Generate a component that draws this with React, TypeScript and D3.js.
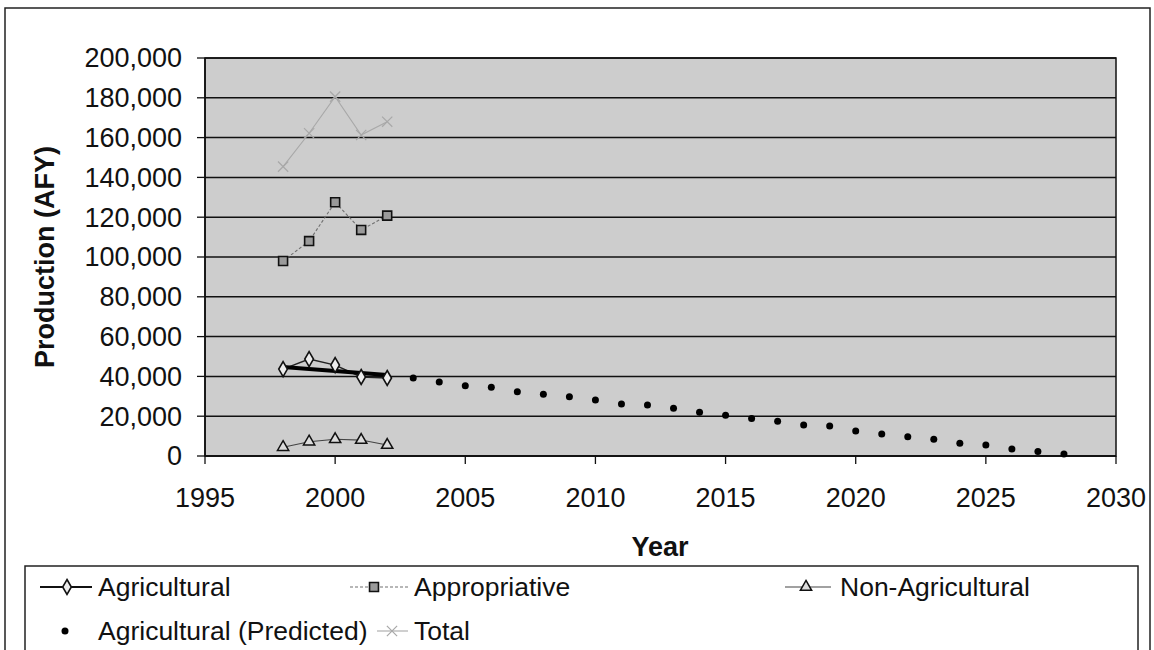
import React from 'react';
import * as d3 from 'd3';

// ---- data ----
const years = [1998, 1999, 2000, 2001, 2002];
const agricultural = [43700, 48700, 45700, 39700, 39200];
const appropriative = [98000, 108000, 127500, 113600, 120800];
const nonAgricultural = [4400, 7200, 8400, 8000, 5500];
const total = [145400, 162200, 180600, 161300, 168000];
const trendYears = [1998, 2002];
const trendValues = [44700, 40700];
const predictedYears = [2003, 2004, 2005, 2006, 2007, 2008, 2009, 2010, 2011, 2012, 2013, 2014, 2015, 2016, 2017, 2018, 2019, 2020, 2021, 2022, 2023, 2024, 2025, 2026, 2027, 2028];
const predicted = [39200, 37200, 35300, 34500, 32300, 31000, 29800, 28100, 26100, 25600, 24000, 22000, 20500, 18900, 17400, 15600, 15100, 12600, 11000, 9700, 8400, 6400, 5500, 3500, 2200, 1000];
const xTicks = [1995, 2000, 2005, 2010, 2015, 2020, 2025, 2030];
const yTicks = [0, 20000, 40000, 60000, 80000, 100000, 120000, 140000, 160000, 180000, 200000];

const W = 1154;
const H = 650;
const FONT = "'Liberation Sans', Arial, sans-serif";

export default function App() {
  const x = d3.scaleLinear().domain([1995, 2030]).range([205, 1116]);
  const y = d3.scaleLinear().domain([0, 200000]).range([456, 58]);
  const fmt = d3.format(',');

  const lineGen = d3.line<[number, number]>().x((d) => x(d[0])).y((d) => y(d[1]));
  const pts = (vals: number[], yrs: number[] = years) => yrs.map((yr, i) => [yr, vals[i]] as [number, number]);

  const diamond = d3.symbol().type(d3.symbolDiamond).size(65)() as string;
  const square = d3.symbol().type(d3.symbolSquare).size(80)() as string;
  const triangle = d3.symbol().type(d3.symbolTriangle).size(55)() as string;
  const times = d3.symbol().type(d3.symbolTimes).size(70)() as string;

  const [x0, x1] = x.range();
  const [yb, yt] = y.range();

  const totalColor = '#a8a8a8';

  const markAg = (cx: number, cy: number, k: string) => (
    <path key={k} d={diamond} transform={`translate(${cx},${cy})`} fill="#ededed" stroke="#111" strokeWidth={1.6} />
  );
  const markAp = (cx: number, cy: number, k: string) => (
    <path key={k} d={square} transform={`translate(${cx},${cy})`} fill="#9a9a9a" stroke="#111" strokeWidth={1.6} />
  );
  const markNa = (cx: number, cy: number, k: string) => (
    <path key={k} d={triangle} transform={`translate(${cx},${cy})`} fill="#dcdcdc" stroke="#111" strokeWidth={1.5} />
  );
  const markTo = (cx: number, cy: number, k: string) => (
    <path key={k} d={times} transform={`translate(${cx},${cy})`} fill="none" stroke={totalColor} strokeWidth={1.2} />
  );

  return (
    <svg width={W} height={H} style={{ position: 'absolute', left: 0, top: 0, background: '#fff' }} fontFamily={FONT}>
      {/* outer border */}
      <rect x={5} y={8} width={1145} height={660} fill="none" stroke="#222" strokeWidth={1.5} />

      {/* plot area */}
      <rect x={x0} y={yt} width={x1 - x0} height={yb - yt} fill="#cdcdcd" stroke="#111" strokeWidth={1.5} />

      {/* gridlines */}
      {yTicks.map((t) => (
        <line key={'g' + t} x1={x0} x2={x1} y1={y(t)} y2={y(t)} stroke="#111" strokeWidth={1.5} />
      ))}

      {/* axes */}
      <line x1={x0} x2={x0} y1={yt} y2={yb} stroke="#111" strokeWidth={1.6} />
      <line x1={x0} x2={x1} y1={yb} y2={yb} stroke="#111" strokeWidth={1.6} />
      {yTicks.map((t) => (
        <g key={'yt' + t}>
          <line x1={x0 - 8} x2={x0} y1={y(t)} y2={y(t)} stroke="#111" strokeWidth={1.3} />
          <text x={182} y={y(t)} dy="0.35em" textAnchor="end" fontSize={27} fill="#111">{fmt(t)}</text>
        </g>
      ))}
      {xTicks.map((t) => (
        <g key={'xt' + t}>
          <line x1={x(t)} x2={x(t)} y1={yb} y2={yb + 8} stroke="#111" strokeWidth={1.3} />
          <text x={x(t)} y={498} dy="0.35em" textAnchor="middle" fontSize={27} fill="#111">{t}</text>
        </g>
      ))}

      {/* axis titles */}
      <text x={660} y={547} dy="0.35em" textAnchor="middle" fontSize={27} fontWeight="bold" fill="#111">Year</text>
      <text transform={`translate(45,${(yt + yb) / 2}) rotate(-90)`} dy="0.35em" textAnchor="middle" fontSize={27} fontWeight="bold" fill="#111">Production (AFY)</text>

      {/* series lines */}
      <path d={lineGen(pts(total)) as string} fill="none" stroke={totalColor} strokeWidth={1.1} />
      <path d={lineGen(pts(appropriative)) as string} fill="none" stroke="#707070" strokeWidth={1.1} strokeDasharray="3,2" />
      <path d={lineGen(pts(nonAgricultural)) as string} fill="none" stroke="#444" strokeWidth={1.1} />
      <path d={lineGen(pts(agricultural)) as string} fill="none" stroke="#222" strokeWidth={1.4} />
      <path d={lineGen(pts(trendValues, trendYears)) as string} fill="none" stroke="#000" strokeWidth={4} />

      {/* markers */}
      {years.map((yr, i) => markTo(x(yr), y(total[i]), 'to' + yr))}
      {years.map((yr, i) => markAp(x(yr), y(appropriative[i]), 'ap' + yr))}
      {years.map((yr, i) => markNa(x(yr), y(nonAgricultural[i]), 'na' + yr))}
      {years.map((yr, i) => markAg(x(yr), y(agricultural[i]), 'ag' + yr))}
      {predictedYears.map((yr, i) => (
        <circle key={'pr' + yr} cx={x(yr)} cy={y(predicted[i])} r={3.5} fill="#000" />
      ))}

      {/* legend */}
      <rect x={25} y={566} width={1113} height={100} fill="#fff" stroke="#222" strokeWidth={1.5} />
      <g fontSize={26.5} fill="#111">
        {/* row 1 */}
        <line x1={40} x2={92} y1={587} y2={587} stroke="#111" strokeWidth={2} />
        {markAg(67, 587, 'lg-ag')}
        <text x={98} y={596}>Agricultural</text>

        <line x1={350} x2={408} y1={587} y2={587} stroke="#707070" strokeWidth={1.1} strokeDasharray="3,2" />
        {markAp(374, 587, 'lg-ap')}
        <text x={414} y={596}>Appropriative</text>

        <line x1={785} x2={831} y1={587} y2={587} stroke="#444" strokeWidth={1.1} />
        {markNa(806, 587, 'lg-na')}
        <text x={840} y={596}>Non-Agricultural</text>

        {/* row 2 */}
        <circle cx={65} cy={631} r={3.5} fill="#000" />
        <text x={98} y={640}>Agricultural (Predicted)</text>

        <line x1={377} x2={408} y1={631} y2={631} stroke={totalColor} strokeWidth={1.1} />
        {markTo(392, 631, 'lg-to')}
        <text x={414} y={640}>Total</text>
      </g>
    </svg>
  );
}
